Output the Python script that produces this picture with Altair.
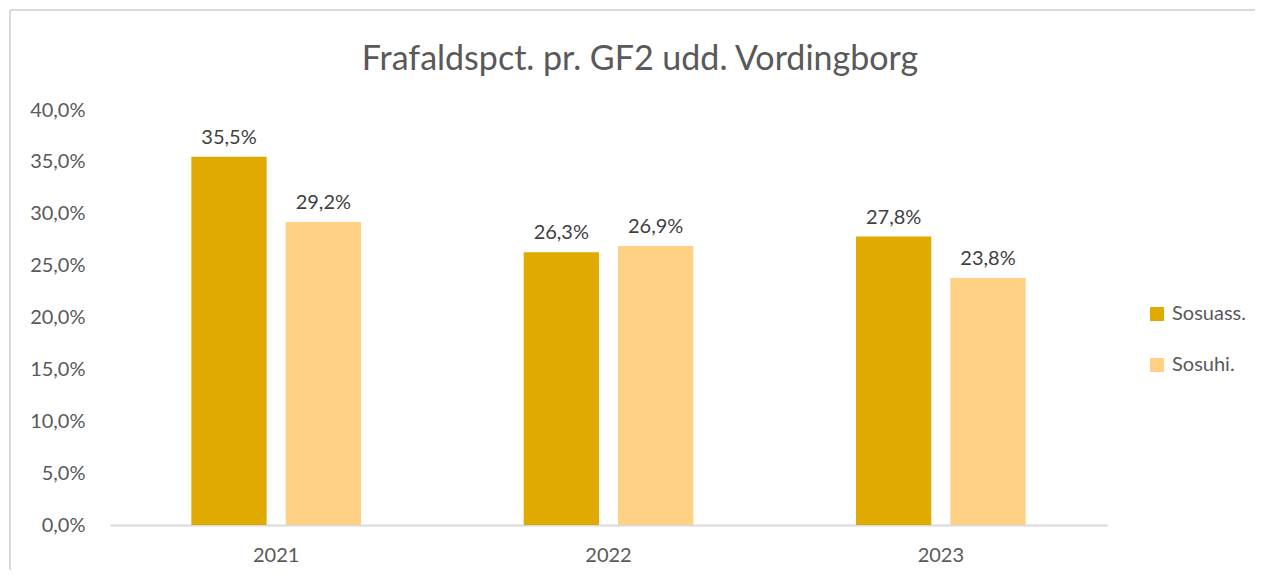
import altair as alt
import pandas as pd

years = ["2021", "2022", "2023"]
series = ["Sosuass.", "Sosuhi."]
sosuass = [0.355, 0.263, 0.278]
sosuhi = [0.292, 0.269, 0.238]
colors = ["#E0AA00", "#FFD185"]
y_ticks = [0, 0.05, 0.10, 0.15, 0.20, 0.25, 0.30, 0.35, 0.40]
title_text = "Frafaldspct. pr. GF2 udd. Vordingborg"

rows = []
for i, y in enumerate(years):
    rows.append({"year": y, "serie": series[0], "value": sosuass[i]})
    rows.append({"year": y, "serie": series[1], "value": sosuhi[i]})
df = pd.DataFrame(rows)

FONT = "Lato"
FS = 20
W, H = 997, 415

base = alt.Chart(df).encode(
    x=alt.X("year:N", sort=years, title=None,
            scale=alt.Scale(paddingInner=0, paddingOuter=0),
            axis=alt.Axis(labelAngle=0, labelFontSize=FS, labelColor="#595959",
                          labelFont=FONT, labelPadding=20, ticks=False,
                          domainColor="#D9D9D9", domainWidth=2)),
    xOffset=alt.XOffset("serie:N", sort=series,
                        scale=alt.Scale(paddingInner=0.202, paddingOuter=0.862)),
)

bars = base.mark_bar().encode(
    y=alt.Y("value:Q", title=None,
            scale=alt.Scale(domain=[0, 0.4], nice=False),
            axis=alt.Axis(values=y_ticks, grid=False, domain=False, ticks=False,
                          labelExpr="replace(format(datum.value, '.1%'), '.', ',')",
                          labelFontSize=FS, labelColor="#595959", labelFont=FONT,
                          labelPadding=25)),
    color=alt.Color("serie:N", sort=series,
                    scale=alt.Scale(domain=series, range=colors),
                    legend=alt.Legend(title=None, orient="none", legendX=1037, legendY=194,
                                      symbolType="square", symbolSize=196,
                                      symbolStrokeWidth=0, labelFontSize=FS,
                                      labelFont=FONT, labelColor="#595959",
                                      labelOffset=5, rowPadding=31)),
)

labels = base.mark_text(dy=-19, fontSize=FS, font=FONT, color="#404040",
                        baseline="middle").encode(
    y="value:Q",
    text="label:N",
).transform_calculate(label="replace(format(datum.value, '.1%'), '.', ',')")

frame_df = pd.DataFrame({"k": [0]})
frame_left = alt.Chart(frame_df).mark_rule(color="#D9D9D9", strokeWidth=2, clip=False).encode(
    x=alt.value(-100), y=alt.value(-100), y2=alt.value(H + 45))
frame_top = alt.Chart(frame_df).mark_rule(color="#D9D9D9", strokeWidth=2, clip=False).encode(
    x=alt.value(-100), x2=alt.value(W + 148), y=alt.value(-100))

title_df = pd.DataFrame({"t": [title_text]})
title = alt.Chart(title_df).mark_text(fontSize=34, font=FONT, color="#595959",
                                      align="center", baseline="middle").encode(
    x=alt.value(530), y=alt.value(-50), text="t:N")

chart = alt.layer(frame_left, frame_top, title, bars, labels).properties(
    width=W, height=H,
    background="white",
    autosize=alt.AutoSizeParams(type="none"),
    padding={"left": 102, "top": 102, "right": 148, "bottom": 45},
).configure_view(strokeWidth=0, stroke="transparent")

chart.save("out.html", embed_options={"renderer": "svg", "actions": False})
